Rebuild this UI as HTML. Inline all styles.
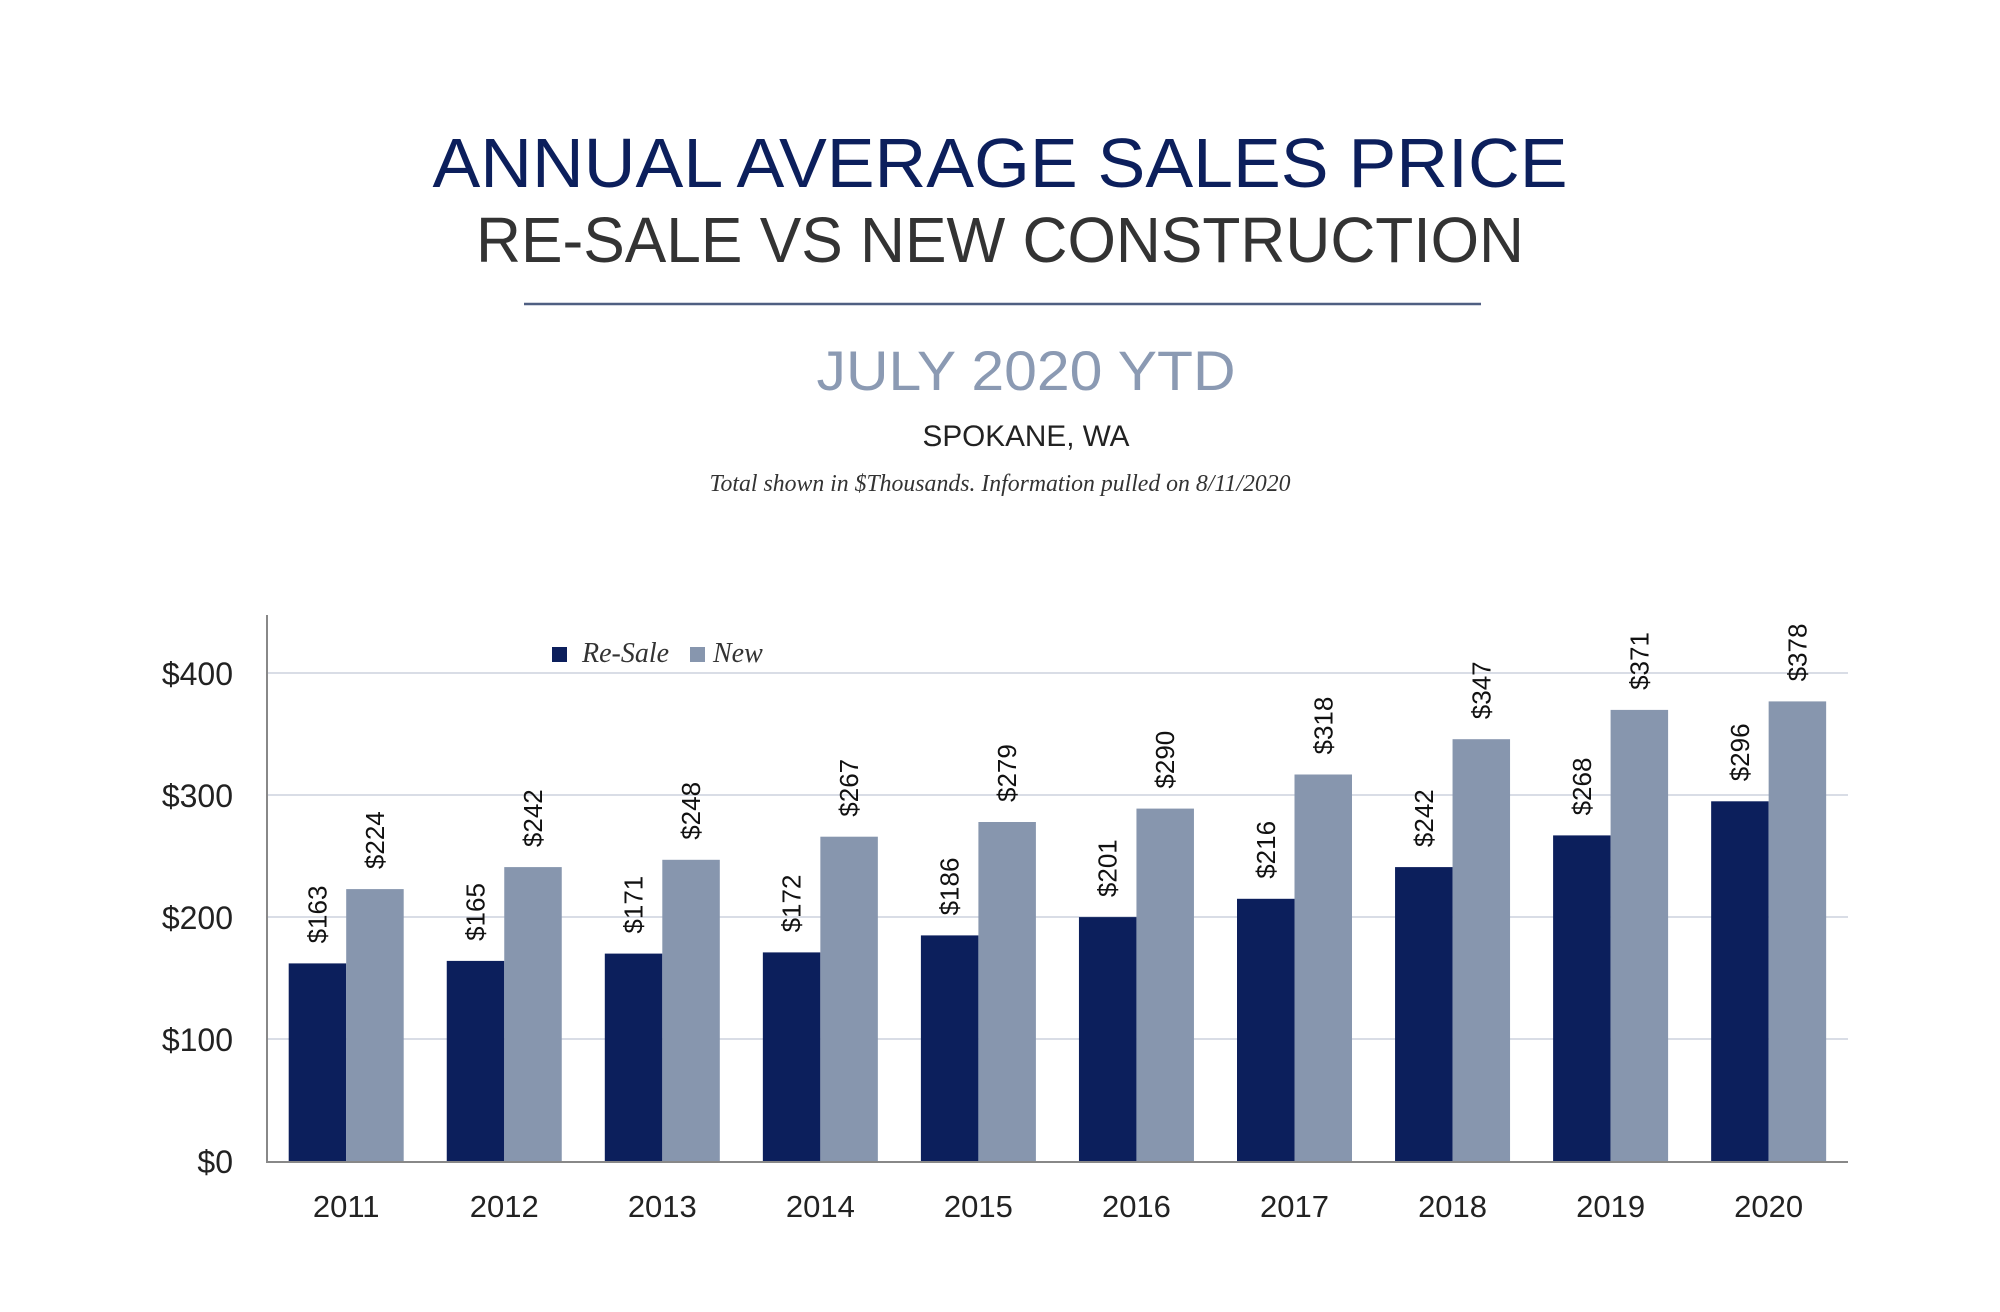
<!DOCTYPE html>
<html><head><meta charset="utf-8"><style>html,body{margin:0;padding:0;background:#fff}svg{display:block}</style></head>
<body>
<svg width="2000" height="1312" viewBox="0 0 2000 1312" xmlns="http://www.w3.org/2000/svg">
<rect width="2000" height="1312" fill="#fff"/>
<g font-family="Liberation Sans, sans-serif" text-anchor="middle">
<text x="1000" y="187" font-size="70" fill="#0c1f5c" textLength="1135" lengthAdjust="spacingAndGlyphs">ANNUAL AVERAGE SALES PRICE</text>
<text x="1000" y="262" font-size="64" fill="#333" textLength="1048" lengthAdjust="spacingAndGlyphs">RE-SALE VS NEW CONSTRUCTION</text>
<line x1="524" y1="304" x2="1481" y2="304" stroke="#4f5f82" stroke-width="2.5"/>
<text x="1026" y="390" font-size="56" fill="#8b9ab3" textLength="419" lengthAdjust="spacingAndGlyphs">JULY 2020 YTD</text>
<text x="1026" y="446" font-size="30" fill="#222" textLength="207" lengthAdjust="spacingAndGlyphs">SPOKANE, WA</text>
<text x="1000" y="491" font-size="24" font-style="italic" font-family="Liberation Serif, serif" fill="#333" textLength="581" lengthAdjust="spacingAndGlyphs">Total shown in $Thousands. Information pulled on 8/11/2020</text>
</g>
<g stroke="#d9dde6" stroke-width="2">
<line x1="267" y1="1039" x2="1848" y2="1039"/>
<line x1="267" y1="917" x2="1848" y2="917"/>
<line x1="267" y1="795" x2="1848" y2="795"/>
<line x1="267" y1="673" x2="1848" y2="673"/>
</g>
<g font-family="Liberation Sans, sans-serif" font-size="32" fill="#222" text-anchor="end">
<text x="233" y="1173">$0</text>
<text x="233" y="1051">$100</text>
<text x="233" y="929">$200</text>
<text x="233" y="807">$300</text>
<text x="233" y="685">$400</text>
</g>
<g fill="#0c1f5c">
<rect x="288.7" y="963.4" width="57.5" height="198.6"/>
<rect x="446.75" y="960.9" width="57.5" height="201.1"/>
<rect x="604.8" y="953.6" width="57.5" height="208.4"/>
<rect x="762.85" y="952.4" width="57.5" height="209.6"/>
<rect x="920.9" y="935.4" width="57.5" height="226.6"/>
<rect x="1078.95" y="917.1" width="57.5" height="244.9"/>
<rect x="1237" y="898.8" width="57.5" height="263.2"/>
<rect x="1395.05" y="867.1" width="57.5" height="294.9"/>
<rect x="1553.1" y="835.4" width="57.5" height="326.6"/>
<rect x="1711.15" y="801.3" width="57.5" height="360.7"/>
</g>
<g fill="#8796ae">
<rect x="346.2" y="889.1" width="57.5" height="272.9"/>
<rect x="504.25" y="867.1" width="57.5" height="294.9"/>
<rect x="662.3" y="859.8" width="57.5" height="302.2"/>
<rect x="820.35" y="836.7" width="57.5" height="325.3"/>
<rect x="978.4" y="822" width="57.5" height="340"/>
<rect x="1136.45" y="808.6" width="57.5" height="353.4"/>
<rect x="1294.5" y="774.5" width="57.5" height="387.5"/>
<rect x="1452.55" y="739.2" width="57.5" height="422.8"/>
<rect x="1610.6" y="709.9" width="57.5" height="452.1"/>
<rect x="1768.65" y="701.4" width="57.5" height="460.6"/>
</g>
<g font-family="Liberation Sans, sans-serif" font-size="26" fill="#111">
<text transform="translate(326.5,943.4) rotate(-90)">$163</text>
<text transform="translate(384,869.1) rotate(-90)">$224</text>
<text transform="translate(484.5,940.9) rotate(-90)">$165</text>
<text transform="translate(542,847.1) rotate(-90)">$242</text>
<text transform="translate(642.6,933.6) rotate(-90)">$171</text>
<text transform="translate(700,839.8) rotate(-90)">$248</text>
<text transform="translate(800.6,932.4) rotate(-90)">$172</text>
<text transform="translate(858.1,816.7) rotate(-90)">$267</text>
<text transform="translate(958.7,915.4) rotate(-90)">$186</text>
<text transform="translate(1016.2,802) rotate(-90)">$279</text>
<text transform="translate(1116.7,897.1) rotate(-90)">$201</text>
<text transform="translate(1174.2,788.6) rotate(-90)">$290</text>
<text transform="translate(1274.8,878.8) rotate(-90)">$216</text>
<text transform="translate(1332.3,754.5) rotate(-90)">$318</text>
<text transform="translate(1432.8,847.1) rotate(-90)">$242</text>
<text transform="translate(1490.3,719.2) rotate(-90)">$347</text>
<text transform="translate(1590.9,815.4) rotate(-90)">$268</text>
<text transform="translate(1648.4,689.9) rotate(-90)">$371</text>
<text transform="translate(1748.9,781.3) rotate(-90)">$296</text>
<text transform="translate(1806.4,681.4) rotate(-90)">$378</text>
</g>
<g font-family="Liberation Sans, sans-serif" font-size="31" fill="#222" text-anchor="middle">
<text x="346.2" y="1217">2011</text>
<text x="504.25" y="1217">2012</text>
<text x="662.3" y="1217">2013</text>
<text x="820.35" y="1217">2014</text>
<text x="978.4" y="1217">2015</text>
<text x="1136.45" y="1217">2016</text>
<text x="1294.5" y="1217">2017</text>
<text x="1452.55" y="1217">2018</text>
<text x="1610.6" y="1217">2019</text>
<text x="1768.65" y="1217">2020</text>
</g>
<line x1="267" y1="615" x2="267" y2="1162" stroke="#888" stroke-width="2"/>
<line x1="266" y1="1162" x2="1848" y2="1162" stroke="#888" stroke-width="2"/>
<rect x="552" y="647" width="15" height="15" fill="#0c1f5c"/>
<text x="582" y="662" font-family="Liberation Serif, serif" font-style="italic" font-size="28" fill="#333">Re-Sale</text>
<rect x="690" y="647" width="15" height="15" fill="#8796ae"/>
<text x="713" y="662" font-family="Liberation Serif, serif" font-style="italic" font-size="28" fill="#333">New</text>
</svg>
</body></html>
